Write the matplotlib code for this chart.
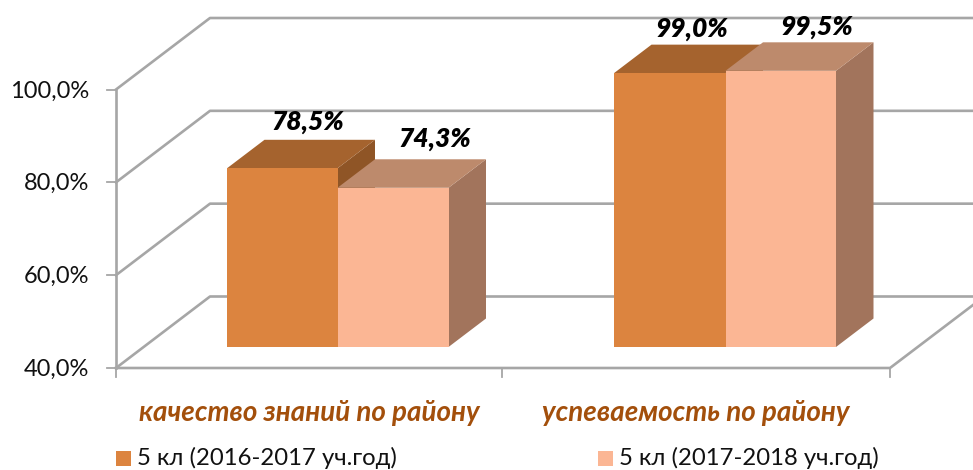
import matplotlib
matplotlib.use('Agg')
import matplotlib.pyplot as plt
from matplotlib.patches import Polygon, Rectangle

plt.rcParams['font.family'] = ['Lato', 'Open Sans', 'DejaVu Sans']

# Данные
categories = ['качество знаний по району', 'успеваемость по району']
series_names = ['5 кл (2016-2017 уч.год)', '5 кл (2017-2018 уч.год)']
values_2016 = [78.5, 99.0]
values_2017 = [74.3, 99.5]
y_ticks = [40, 60, 80, 100]

front_colors = ['#DC843F', '#FBB694']
top_colors = ['#A5632E', '#BD8A6C']
side_colors = ['#8F5526', '#A2745C']
grid_color = '#A6A6A6'

W, H = 973, 470
fig = plt.figure(figsize=(W / 100, H / 100), dpi=100)
ax = fig.add_axes([0, 0, 1, 1])
ax.set_xlim(0, W)
ax.set_ylim(H, 0)
ax.axis('off')

# Масштаб: значения -> пиксели
x0, x1 = 116, 890
dx, dy = 94, -71.5
y40, y100 = 368, 89.5


def ypx(v):
    return y40 + (v - 40) * (y100 - y40) / 60


# Сетка и стенки
for v in y_ticks:
    y = ypx(v)
    ax.plot([x0, x0 + dx, W], [y, y + dy, y + dy], color=grid_color, lw=1.9, zorder=1)
    ax.plot([x0 - 9, x0], [y, y], color=grid_color, lw=1.3, zorder=1)
    ax.text(89, y + 1.5, f'{v},0%', ha='right', va='center', fontsize=17, color='#111111')
ax.plot([x0, x0], [ypx(40), ypx(100)], color=grid_color, lw=1.9, zorder=1)
ax.plot([x0, x1, W], [ypx(40), ypx(40), ypx(40) - 63], color=grid_color, lw=1.9, zorder=1)
for x in [x0, 502, x1]:
    ax.plot([x, x], [ypx(40), ypx(40) + 8.5], color=grid_color, lw=1.3, zorder=1)

# Столбцы
depth_x, depth_y = 37.5, -28.5
base_y = 347
y_offset = -21
edges = [[227, 337.5, 448.5], [614, 725.5, 836]]
labels_xy = [[(308, 122), (435, 139)], [(692, 29), (817, 27)]]
for c in range(2):
    for s, vals in enumerate([values_2016, values_2017]):
        left, right = edges[c][s], edges[c][s + 1]
        top = ypx(vals[c]) + y_offset
        z = 3 + s
        ax.add_patch(Polygon([(right, top), (right + depth_x, top + depth_y),
                              (right + depth_x, base_y + depth_y), (right, base_y)],
                             facecolor=side_colors[s], edgecolor='none', zorder=z))
        ax.add_patch(Polygon([(left, top), (left + depth_x, top + depth_y),
                              (right + depth_x, top + depth_y), (right, top)],
                             facecolor=top_colors[s], edgecolor='none', zorder=z))
        ax.add_patch(Rectangle((left, top), right - left, base_y - top, facecolor=front_colors[s],
                               edgecolor='none', zorder=z))
        lx, ly = labels_xy[c][s]
        ax.text(lx, ly, f'{vals[c]:.1f}%'.replace('.', ','), ha='center', va='center',
                fontsize=19, fontweight='heavy', fontstyle='italic', color='black', zorder=10)

# Подписи категорий
for x, name in zip([309, 696], categories):
    ax.text(x, 413, name, ha='center', va='center', fontsize=20, fontweight='bold',
            fontstyle='italic', color='#A34F0B')

# Легенда
for x, color, name in zip([116, 598], front_colors, series_names):
    ax.add_patch(Rectangle((x, 451), 15, 15, facecolor=color, edgecolor='none'))
    ax.text(x + 21, 458, name, ha='left', va='center', fontsize=17.2, color='#111111')

fig.savefig('out.png', dpi=100)
